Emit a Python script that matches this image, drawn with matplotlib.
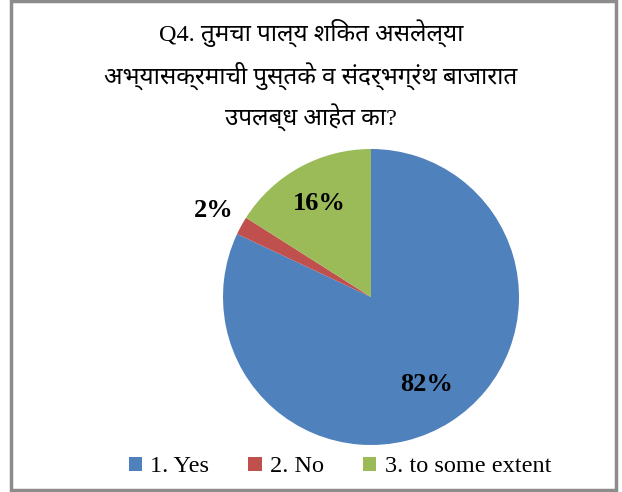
import matplotlib
matplotlib.use("Agg")
import numpy as np
import matplotlib.pyplot as plt
import matplotlib.patches as mpatches

title_lines = ["Q4. तुमचा पाल्य शिकत असलेल्या",
               "अभ्यासक्रमाची पुस्तके व संदर्भग्रंथ बाजारात",
               "उपलब्ध आहेत का?"]
categories = ["1. Yes", "2. No", "3. to some extent"]
values = [82, 2, 16]
labels = ["82%", "2%", "16%"]
colors = ["#4f81bd", "#c0504d", "#9bbb59"]
label_dist = [0.70, 1.21, 0.72]

serif = ["Liberation Serif", "Noto Sans", "DejaVu Sans"]

W, H = 622, 492
fig = plt.figure(figsize=(W / 100, H / 100), dpi=100)
fig.patches.append(mpatches.Rectangle((10.5 / W, 1 - 490 / H), (616 - 10.5) / W, (490 - 0.5) / H,
                                      transform=fig.transFigure, fill=False,
                                      edgecolor="#8c8c8c", linewidth=2.5))

# title
tax = fig.add_axes([0, 0, 1, 1])
tax.set_xlim(0, W)
tax.set_ylim(H, 0)
tax.axis("off")
for t, y in zip(title_lines, [33, 76, 118]):
    tax.text(311, y, t, ha="center", va="center", fontsize=17.5, family=serif)

# pie
cx, cy, r = 371, 297, 148
ax = fig.add_axes([(cx - r) / W, 1 - (cy + r) / H, 2 * r / W, 2 * r / H])
wedges, _ = ax.pie(values, colors=colors, startangle=90, counterclock=False,
                   radius=1, wedgeprops=dict(linewidth=0))
ax.set_xlim(-1, 1)
ax.set_ylim(-1, 1)
ax.set_aspect("equal")
ax.axis("off")
for w, lab, d in zip(wedges, labels, label_dist):
    ang = np.deg2rad((w.theta1 + w.theta2) / 2)
    ax.text(d * np.cos(ang), d * np.sin(ang), lab, ha="center", va="center",
            fontsize=19, fontweight="bold", family=serif, clip_on=False)

leg = fig.legend(wedges, categories, loc="center", bbox_to_anchor=(340 / W, 1 - 467 / H),
                 ncol=3, frameon=False, prop=dict(family=serif, size=17.5),
                 handlelength=0.55, handleheight=0.55, handletextpad=0.35, columnspacing=1.6,
                 borderpad=0)

fig.savefig("out.png", dpi=100)
